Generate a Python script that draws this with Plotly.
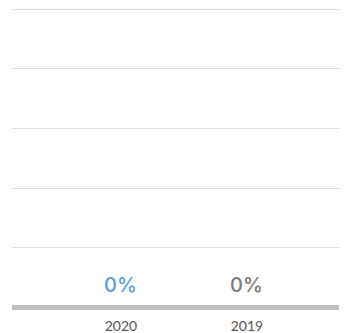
import plotly.graph_objects as go

categories = ["2020", "2019"]
values = [0, 0]
label_colors = ["#5b9bd8", "#7a7a7a"]

fig = go.Figure()
fig.add_trace(go.Bar(
    x=categories, y=values,
    marker=dict(color=label_colors, line=dict(width=0)),
    width=0.5,
    hoverinfo="skip",
))

for i, (v, col) in enumerate(zip(values, label_colors)):
    fig.add_annotation(
        x=i, y=v, text=f"{v}%", showarrow=False,
        yanchor="bottom", yshift=8,
        font=dict(family="Inter, sans-serif", size=20, color=col, weight=500),
    )

# page body has an 8px margin, so the figure is offset by (8, 8)
fig.update_layout(
    width=339, height=325,
    margin=dict(l=4, r=0, t=0, b=26, autoexpand=False),
    paper_bgcolor="white", plot_bgcolor="white",
    showlegend=False,
    xaxis=dict(
        type="category", automargin=False,
        range=[-0.865, 1.794],
        showgrid=False, zeroline=False, showline=False,
        ticks="", tickfont=dict(family="Lato, sans-serif", size=14, color="#555555"),
        ticklabelstandoff=9,
    ),
    yaxis=dict(
        automargin=False,
        range=[0, 5.025], dtick=1, showticklabels=False,
        showgrid=True, gridcolor="#dddddd", gridwidth=1,
        zeroline=True, zerolinecolor="#bfbfbf", zerolinewidth=5,
    ),
)

fig.write_html("out.html")
